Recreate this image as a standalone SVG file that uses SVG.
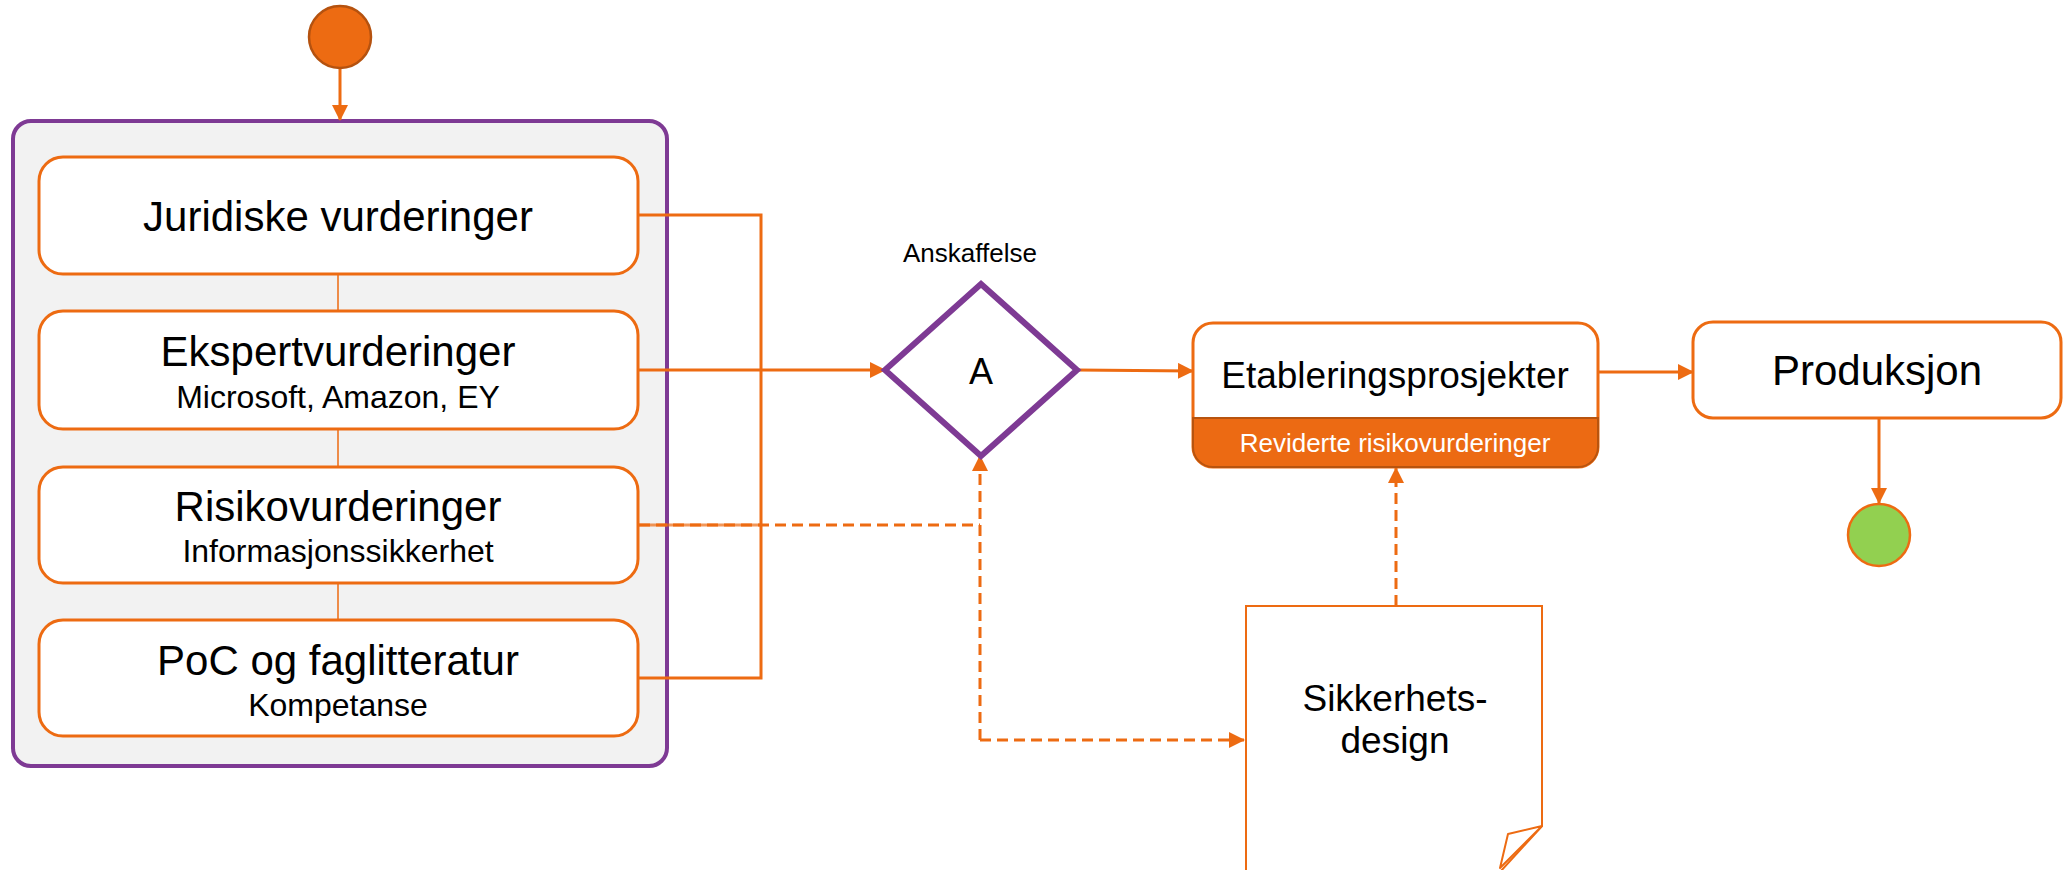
<svg xmlns="http://www.w3.org/2000/svg" width="2063" height="870" viewBox="0 0 2063 870">
<style>
text{font-family:"Liberation Sans",Arial,sans-serif;fill:#000;text-anchor:middle}
.box{fill:#fff;stroke:#ED6B12;stroke-width:3}
.con{fill:none;stroke:#ED6B12;stroke-width:3}
.thin{fill:none;stroke:#ED6B12;stroke-width:1.5}
.dash{fill:none;stroke:#ED6B12;stroke-width:3;stroke-dasharray:11 6}
.t42{font-size:42px}
.t32{font-size:32px}
</style>
<defs>
<marker id="ah" markerWidth="16" markerHeight="16" refX="15" refY="8" orient="auto" markerUnits="userSpaceOnUse">
<path d="M0,0 L16,8 L0,16 Z" fill="#ED6B12"/>
</marker>
</defs>
<rect width="2063" height="870" fill="#fff"/>

<g id="container">
<rect x="13" y="121" width="654" height="645" rx="18" fill="#F2F2F2" stroke="#7E3A94" stroke-width="4"/>
</g>

<g id="connectors">
<path class="con" d="M340,69 V120" marker-end="url(#ah)"/>
<path class="thin" d="M338,274 V311 M338,429 V467 M338,583 V620"/>
<path class="con" d="M639,215 H761 V678 H639"/>
<path class="con" d="M639,370 H885" marker-end="url(#ah)"/>
<path class="con" d="M639,525 H761" opacity="0.7"/>
<path class="dash" d="M639,525 H980"/>
<path class="dash" d="M980,740 V456" marker-end="url(#ah)"/>
<path class="dash" d="M980,740 H1244" marker-end="url(#ah)"/>
<path class="con" stroke-width="2.5" d="M1077,370 L1193,371" marker-end="url(#ah)"/>
<path class="dash" d="M1396,606 V468" marker-end="url(#ah)"/>
<path class="con" stroke-width="2.5" d="M1598,372 H1693" marker-end="url(#ah)"/>
<path class="con" stroke-width="2.5" d="M1879,418 V503" marker-end="url(#ah)"/>
</g>

<g id="start">
<circle cx="340" cy="37" r="31" fill="#ED6B12" stroke="#B5520F" stroke-width="2.5"/>
</g>

<g id="juridiske">
<rect class="box" x="39" y="157" width="599" height="117" rx="24"/>
<text class="t42" x="338" y="231">Juridiske vurderinger</text>
</g>

<g id="ekspert">
<rect class="box" x="39" y="311" width="599" height="118" rx="24"/>
<text class="t42" x="338" y="366">Ekspertvurderinger</text>
<text class="t32" x="338" y="408">Microsoft, Amazon, EY</text>
</g>

<g id="risiko">
<rect class="box" x="39" y="467" width="599" height="116" rx="24"/>
<text class="t42" x="338" y="521">Risikovurderinger</text>
<text class="t32" x="338" y="562">Informasjonssikkerhet</text>
</g>

<g id="poc">
<rect class="box" x="39" y="620" width="599" height="116" rx="24"/>
<text class="t42" x="338" y="675">PoC og faglitteratur</text>
<text class="t32" x="338" y="716">Kompetanse</text>
</g>

<g id="anskaffelse">
<text x="970" y="262" font-size="26">Anskaffelse</text>
<polygon points="981,284 1077,370 981,456 885,370" fill="#fff" stroke="#7E3A94" stroke-width="6" stroke-linejoin="miter"/>
<text x="981" y="384" font-size="36">A</text>
</g>

<g id="etablering">
<rect class="box" x="1193" y="323" width="405" height="144" rx="20"/>
<path d="M1193,418 H1598 V447 A20,20 0 0 1 1578,467 H1213 A20,20 0 0 1 1193,447 Z" fill="#EC6A13" stroke="#B8540F" stroke-width="2"/>
<text x="1395" y="388" font-size="37">Etableringsprosjekter</text>
<text x="1395" y="452" font-size="26" style="fill:#fff">Reviderte risikovurderinger</text>
</g>

<g id="produksjon">
<rect class="box" x="1693" y="322" width="368" height="96" rx="20"/>
<text class="t42" x="1877" y="385">Produksjon</text>
</g>

<g id="end">
<circle cx="1879" cy="535" r="31" fill="#92D050" stroke="#ED6B12" stroke-width="2.5"/>
</g>

<g id="sikkerhetsdesign">
<path d="M1246,872 V606 H1542 V826 L1500,872" fill="#fff" stroke="#ED6B12" stroke-width="2"/>
<path d="M1542,826 L1508,834 L1500,868 Z" fill="#fff" stroke="#ED6B12" stroke-width="2" stroke-linejoin="round"/>
<text x="1395" y="711" font-size="37">Sikkerhets-</text>
<text x="1395" y="753" font-size="37">design</text>
</g>
</svg>
